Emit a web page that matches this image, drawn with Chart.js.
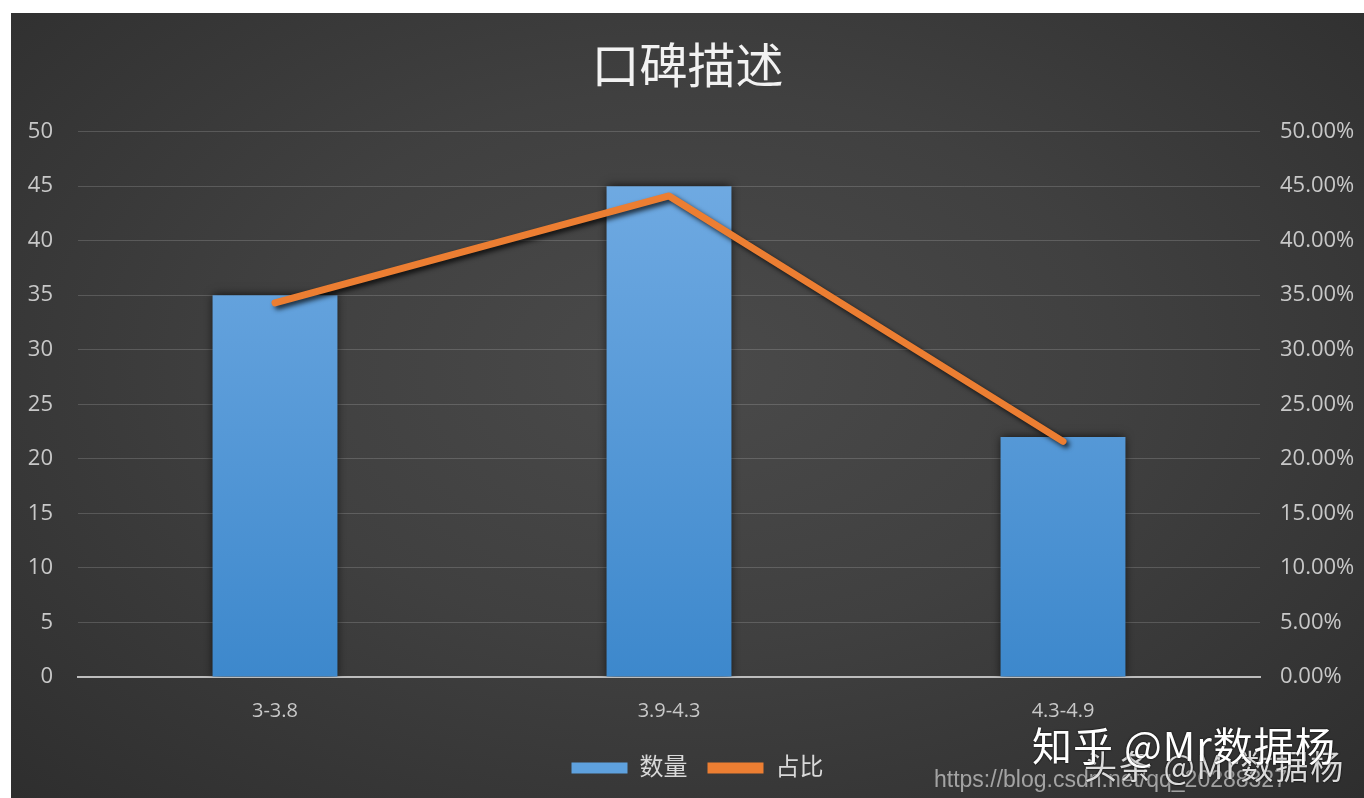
<!DOCTYPE html>
<html lang="zh">
<head>
<meta charset="UTF-8">
<title>口碑描述</title>
<style>
  html, body { margin: 0; padding: 0; background: #ffffff; }
  body { width: 1364px; height: 798px; position: relative; overflow: hidden; }
  #panel {
    position: absolute; left: 11px; top: 13px; width: 1353px; height: 785px;
    background: radial-gradient(ellipse at 50% 45%, #4a4a4a 0%, #404040 45%, #2e2e2e 100%);
  }
  #chart { display: block; }
  .wm { position: absolute; white-space: nowrap; line-height: 1; font-family: "Noto Sans CJK SC", "Noto Sans", sans-serif; }
  #wm1 { left: 934px; top: 768px; font-size: 23px; color: rgba(200,200,200,0.75); font-family: "Liberation Sans", Arial, sans-serif; }
  #wm2 { left: 1032px; top: 724px; font-size: 40px; letter-spacing: 1px; color: #ffffff; text-shadow: 0 0 2px #000; }
  #wm3 { left: 1084px; top: 749px; font-size: 33px; letter-spacing: 2px; color: rgba(255,255,255,0.85); text-shadow: 0 0 2px #000; }
</style>
<script src="https://cdn.jsdelivr.net/npm/chart.js"></script>
</head>
<body>
<div id="panel"><canvas id="chart" width="1353" height="785"></canvas></div>
<div class="wm" id="wm1">https://blog.csdn.net/qq_20288327</div>
<div class="wm" id="wm3">头条 @Mr数据杨</div>
<div class="wm" id="wm2">知乎 @Mr数据杨</div>

<script>
const categories = ['3-3.8', '3.9-4.3', '4.3-4.9'];
const counts = [35, 45, 22];
const shares = [34.3, 44.1, 21.6]; // percent
const leftTicks = [0, 5, 10, 15, 20, 25, 30, 35, 40, 45, 50];

const FONT = '"Open Sans", "Noto Sans CJK SC", sans-serif';

function barGradient(context) {
  const area = context.chart.chartArea;
  if (!area) return '#5b9bd5';
  const g = context.chart.ctx.createLinearGradient(0, area.top, 0, area.bottom);
  g.addColorStop(0, '#74ade4');
  g.addColorStop(1, '#3d88cc');
  return g;
}

// soft shadow under bars and line, like the office chart style
const shadowPlugin = {
  id: 'shadows',
  afterLayout(chart) {
    // legend sits a little right of centre in the original
    chart.legend.left += 10;
    chart.legend.right += 10;
  },
  beforeDatasetDraw(chart, args) {
    const ctx = chart.ctx;
    ctx.save();
    if (args.index === 0) {
      ctx.shadowColor = 'rgba(0,0,0,0.75)';
      ctx.shadowBlur = 9;
      ctx.shadowOffsetX = 0;
      ctx.shadowOffsetY = 0;
    } else {
      ctx.shadowColor = 'rgba(0,0,0,0.75)';
      ctx.shadowBlur = 5;
      ctx.shadowOffsetX = 3;
      ctx.shadowOffsetY = 3;
    }
  },
  afterDatasetDraw(chart) {
    chart.ctx.restore();
  }
};

new Chart(document.getElementById('chart'), {
  type: 'bar',
  data: {
    labels: categories,
    datasets: [
      {
        type: 'bar',
        label: '数量',
        data: counts,
        yAxisID: 'y',
        backgroundColor: barGradient,
        borderWidth: 0,
        categoryPercentage: 1,
        barPercentage: 0.317,
        order: 2
      },
      {
        type: 'line',
        label: '占比',
        data: shares,
        yAxisID: 'y1',
        borderColor: '#ec7e32',
        backgroundColor: '#ec7e32',
        borderWidth: 7,
        pointRadius: 0,
        tension: 0,
        borderCapStyle: 'round',
        borderJoinStyle: 'round',
        order: 1
      }
    ]
  },
  options: {
    responsive: false,
    animation: false,
    layout: { padding: { left: 0, right: 0, top: 0, bottom: 8 } },
    plugins: {
      title: {
        display: true,
        text: '口碑描述',
        color: '#f2f2f2',
        font: { family: FONT, size: 48, weight: 'normal' },
        padding: { top: 28, bottom: 33 }
      },
      legend: {
        position: 'bottom',
        labels: {
          color: '#d9d9d9',
          font: { family: FONT, size: 24 },
          boxWidth: 56,
          boxHeight: 11,
          padding: 20,
          generateLabels(chart) {
            return chart.data.datasets.map((ds, i) => ({
              text: ds.label,
              fillStyle: i === 0 ? '#5ea1de' : '#ec7e32',
              strokeStyle: i === 0 ? '#5ea1de' : '#ec7e32',
              lineWidth: 0,
              fontColor: '#d9d9d9',
              datasetIndex: i
            }));
          }
        }
      },
      tooltip: { enabled: false }
    },
    scales: {
      x: {
        grid: { display: false, drawTicks: false },
        border: { display: true, color: '#bdbdbd', width: 2 },
        afterFit(scale) { scale.height = 59; },
        ticks: { color: '#c8c8c8', font: { family: FONT, size: 20 }, padding: 22 }
      },
      y: {
        position: 'left',
        min: 0,
        max: 50,
        afterBuildTicks(scale) { scale.ticks = leftTicks.map(v => ({ value: v })); },
        afterFit(scale) { scale.width = 67; },
        grid: { color: 'rgba(255,255,255,0.16)', lineWidth: 1, drawTicks: false },
        border: { display: false },
        ticks: { color: '#c8c8c8', font: { family: FONT, size: 22 }, padding: 25 }
      },
      y1: {
        position: 'right',
        min: 0,
        max: 50,
        afterBuildTicks(scale) { scale.ticks = leftTicks.map(v => ({ value: v })); },
        afterFit(scale) { scale.width = 104; },
        grid: { display: false, drawTicks: false },
        border: { display: false },
        ticks: {
          color: '#c8c8c8',
          font: { family: FONT, size: 22 },
          padding: 20,
          callback: v => v.toFixed(2) + '%'
        }
      }
    }
  },
  plugins: [shadowPlugin]
});
</script>
</body>
</html>
